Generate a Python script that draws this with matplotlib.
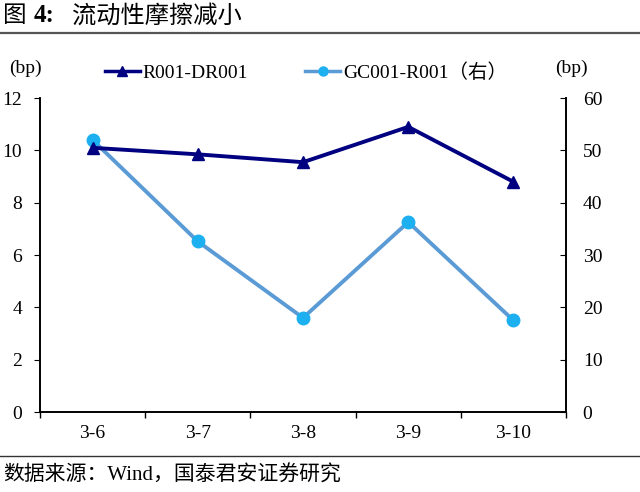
import matplotlib.pyplot as plt
from matplotlib.lines import Line2D

# data
dates = ["3-6", "3-7", "3-8", "3-9", "3-10"]
r001_dr001 = [10.1, 9.85, 9.55, 10.9, 8.8]      # left axis (bp)
gc001_r001 = [52.0, 32.6, 18.0, 36.3, 17.5]     # right axis (bp)
left_ticks = [0, 2, 4, 6, 8, 10, 12]
right_ticks = [0, 10, 20, 30, 40, 50, 60]

cjk = ["Noto Sans CJK SC", "DejaVu Sans"]
serif = ["Liberation Serif", "Noto Sans CJK SC"]
navy = "#000080"
light_line = "#5B9BD5"
light_marker = "#1CB0F0"

fig = plt.figure(figsize=(6.4, 4.92), dpi=100)
ax = fig.add_axes([0.0625, 0.1626, 0.822, 0.638])
ax2 = ax.twinx()

x = list(range(len(dates)))
ax.plot(x, r001_dr001, color=navy, lw=2.8, marker="^", ms=8,
        markeredgecolor=navy, zorder=3)
ax2.plot(x, gc001_r001, color=light_line, lw=2.8, marker="o", ms=9,
         markerfacecolor=light_marker, markeredgecolor=light_marker)
ax.set_zorder(ax2.get_zorder() + 1)
ax.patch.set_visible(False)

ax.set_xlim(-0.5, len(dates) - 0.5)
ax.set_ylim(0, 12)
ax2.set_ylim(0, 60)
ax.set_yticks(left_ticks)
ax2.set_yticks(right_ticks)
ax.set_xticks([i - 0.5 for i in range(len(dates) + 1)])
ax.set_xticklabels([])
ax.set_xticks(x, minor=True)
ax.set_xticklabels(dates, minor=True)
ax.tick_params(axis="x", which="minor", length=0, pad=9)
ax.tick_params(axis="x", which="major", length=4, width=1)
ax.tick_params(axis="y", direction="out", length=4, pad=9)
ax2.tick_params(axis="y", direction="in", length=4, pad=12)

for a in (ax, ax2):
    a.spines["top"].set_visible(False)
    for s in a.spines.values():
        s.set_linewidth(1.2)
    for lab in a.get_xticklabels(minor=True) + a.get_yticklabels():
        lab.set_family(serif)
        lab.set_fontsize(14)

fig.text(0.014, 0.851, "(bp)", family=serif, fontsize=14)
fig.text(0.868, 0.851, "(bp)", family=serif, fontsize=14)

h1 = Line2D([], [], color=navy, lw=2.5, marker="^", ms=6.5)
h2 = Line2D([], [], color=light_line, lw=2.5, marker="o", ms=6.5,
            markerfacecolor=light_marker, markeredgecolor=light_marker)
leg_font = {"family": serif, "size": 14}
for h, lab, x0 in [(h1, "R001-DR001", 0.164), (h2, "GC001-R001（右）", 0.477)]:
    fig.legend([h], [lab], loc="center left", bbox_to_anchor=(x0, 0.852),
               frameon=False, borderpad=0, borderaxespad=0,
               handlelength=1.8, handletextpad=0.15, prop=leg_font)

# title and source
fig.text(0.005, 0.968, "图", family=cjk, fontsize=17, va="center")
fig.text(0.052, 0.968, "4:", family=serif, fontsize=18, weight="bold", va="center")
fig.text(0.113, 0.968, "流动性摩擦减小", family=cjk, fontsize=17.5, va="center")
fig.add_artist(Line2D([0, 1], [0.932, 0.932], color="#555555", lw=1.6,
                      transform=fig.transFigure))
fig.add_artist(Line2D([0, 1], [0.074, 0.074], color="#333333", lw=1.0,
                      transform=fig.transFigure))
fig.text(0.005, 0.034, "数据来源：Wind，国泰君安证券研究", family=serif,
         fontsize=15, va="center")

fig.savefig("out.png", dpi=100)
